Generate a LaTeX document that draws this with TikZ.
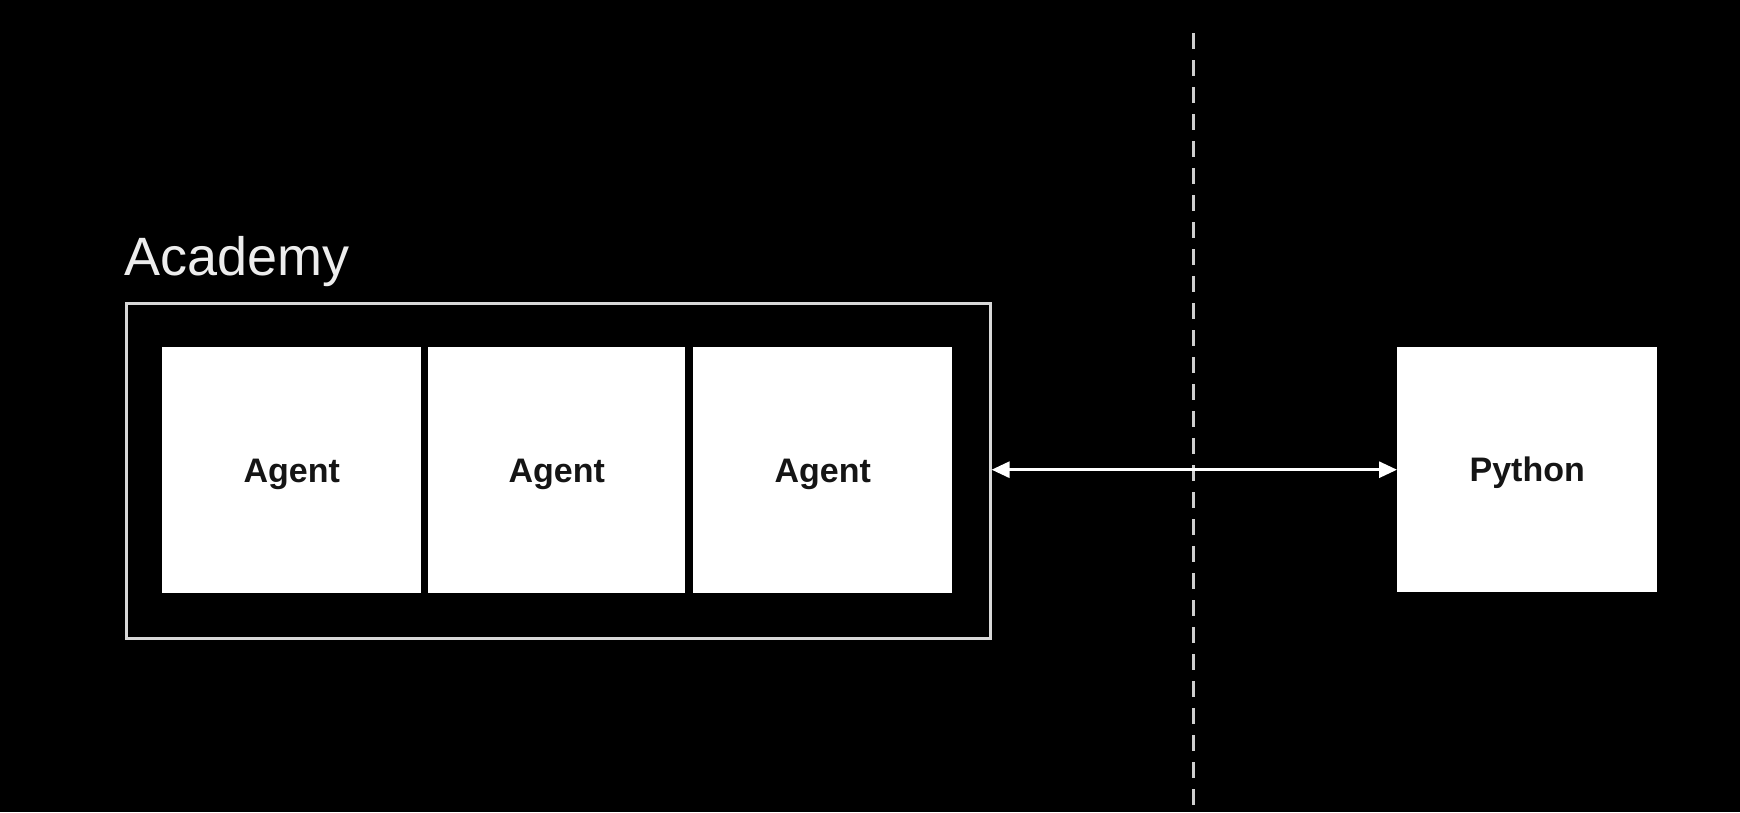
\documentclass[tikz,border=0pt]{standalone}
\usepackage{fontspec}
\setmainfont{Liberation Sans}
\usetikzlibrary{arrows.meta}
\definecolor{bordergray}{HTML}{D8D8D8}
\definecolor{dashgray}{HTML}{CFCFCF}
\definecolor{textdark}{HTML}{151515}
\tikzset{
  whitebox/.style={fill=white, draw=none, inner sep=0pt, anchor=north west,
    text=textdark, font=\fontsize{34}{40}\selectfont\bfseries,
    text height=24pt, text depth=0pt},
  container/.style={draw=bordergray, line width=2.6pt, fill=none},
  divider/.style={draw=dashgray, line width=3pt, dash pattern=on 16pt off 11pt},
  link/.style={draw=white, line width=3pt, {Triangle[length=18pt,width=16pt]}-{Triangle[length=18pt,width=16pt]}},
  title/.style={text=white!93!black, font=\fontsize{54}{60}\selectfont, inner sep=0pt, anchor=base west}
}
\begin{document}
\begin{tikzpicture}[x=1pt, y=-1pt]
  \useasboundingbox[fill=black] (0,0) rectangle (1740,812);
  % dashed divider
  \coordinate (dtop) at (1193,33);
  \coordinate (dbot) at (1193,812);
  \draw[divider] (dtop) -- (dbot);
  % Academy container
  \node[container, minimum width=864pt, minimum height=335pt, anchor=north west, inner sep=0pt] (academy) at (125,302) {};
  \node[title] (academylabel) at (124,275) {Academy};
  % agents
  \node[whitebox, minimum width=259pt, minimum height=246pt] (a1) at (162,347) {Agent};
  \node[whitebox, minimum width=257pt, minimum height=246pt] (a2) at (428,347) {Agent};
  \node[whitebox, minimum width=259pt, minimum height=246pt] (a3) at (693,347) {Agent};
  % Python
  \node[whitebox, minimum width=260pt, minimum height=245pt] (py) at (1397,347) {Python};
  % link
  \draw[link] (academy.east |- py.west) -- (py.west);
\end{tikzpicture}
\end{document}
